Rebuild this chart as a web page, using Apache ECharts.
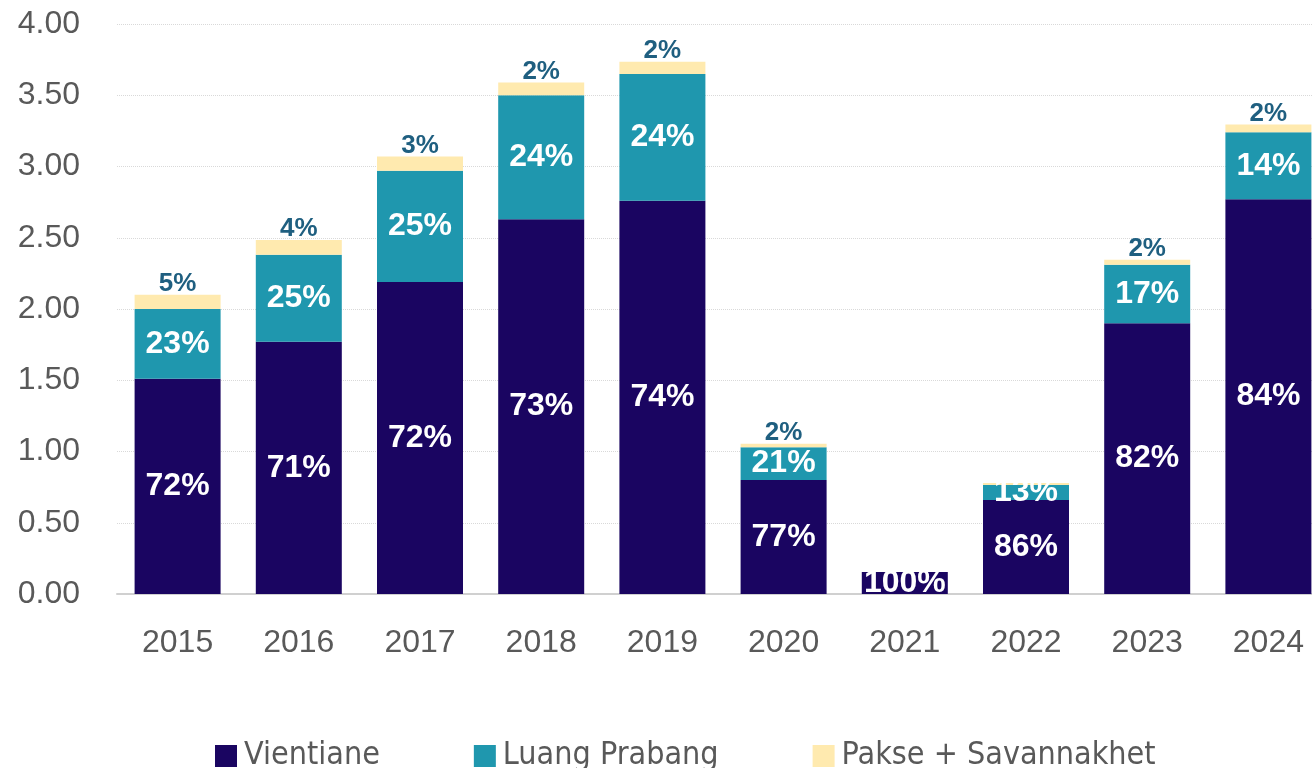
<!DOCTYPE html>
<html>
<head>
<meta charset="utf-8">
<script src="https://cdn.jsdelivr.net/npm/echarts@6/dist/echarts.min.js"></script>
<style>
  html, body { margin: 0; padding: 0; background: #fff; }
  #chart { width: 1312px; height: 768px; }
</style>
</head>
<body>
<div id="chart"></div>
<script>
const years = ['2015', '2016', '2017', '2018', '2019', '2020', '2021', '2022', '2023', '2024']
const vientiane = [1.51, 1.77, 2.19, 2.63, 2.76, 0.80, 0.154, 0.66, 1.90, 2.77]
const luangPrabang = [0.49, 0.61, 0.78, 0.87, 0.89, 0.23, 0, 0.105, 0.41, 0.47]
const pakseSavannakhet = [0.10, 0.105, 0.10, 0.09, 0.085, 0.025, 0, 0.014, 0.035, 0.055]
const vientianeLabels = ['72%', '71%', '72%', '73%', '74%', '77%', '100%', '86%', '82%', '84%']
const luangLabels = ['23%', '25%', '25%', '24%', '24%', '21%', '', '13%', '17%', '14%']
const pakseLabels = ['5%', '4%', '3%', '2%', '2%', '2%', '', '', '2%', '2%']
const yTicks = ['0.00', '0.50', '1.00', '1.50', '2.00', '2.50', '3.00', '3.50', '4.00']

const chart = echarts.init(document.getElementById('chart'))
const baseFont = '"Liberation Sans", Arial, sans-serif'

const insideLabel = (labels) => ({
  show: true,
  position: 'inside',
  color: '#fff',
  fontWeight: 'bold',
  fontSize: 32,
  fontFamily: baseFont,
  formatter: (p) => labels[p.dataIndex]
})

const option = {
  animation: false,
  // plot area runs past the right edge of the picture
  grid: { left: 117, right: -17, top: 24, bottom: 174, outerBoundsMode: 'none', containLabel: false },
  legend: {
    left: 210,
    top: 735,
    itemWidth: 22,
    itemHeight: 22,
    itemGap: 94,
    icon: 'rect',
    textStyle: {
      color: '#595959',
      fontSize: 32,
      fontFamily: '"Liberation Sans Narrow", "DejaVu Sans Condensed", sans-serif',
      padding: [0, 0, 0, 2]
    },
    data: ['Vientiane', 'Luang Prabang', 'Pakse + Savannakhet']
  },
  xAxis: {
    type: 'category',
    data: years,
    axisLine: { lineStyle: { color: '#d0d0d0', width: 2 } },
    axisTick: { show: false },
    axisLabel: { color: '#595959', fontSize: 32, margin: 33, fontFamily: baseFont }
  },
  yAxis: {
    type: 'value',
    min: 0,
    max: 4,
    interval: 0.5,
    axisLine: { show: false },
    axisTick: { show: false },
    splitLine: { lineStyle: { color: '#d9d9d9', type: 'dotted', width: 1 } },
    axisLabel: {
      color: '#595959',
      fontSize: 32,
      margin: 37,
      fontFamily: baseFont,
      formatter: (v) => yTicks[Math.round(v / 0.5)]
    }
  },
  series: [
    {
      name: 'Vientiane',
      type: 'bar',
      stack: 'total',
      barWidth: 86,
      itemStyle: { color: '#1a0561' },
      label: insideLabel(vientianeLabels),
      data: vientiane
    },
    {
      name: 'Luang Prabang',
      type: 'bar',
      stack: 'total',
      itemStyle: { color: '#1f97ae' },
      label: insideLabel(luangLabels),
      data: luangPrabang
    },
    {
      name: 'Pakse + Savannakhet',
      type: 'bar',
      stack: 'total',
      itemStyle: { color: '#ffeaaf' },
      label: {
        show: true,
        position: 'top',
        distance: -2,
        color: '#1f5f80',
        fontWeight: 'bold',
        fontSize: 26,
        fontFamily: baseFont,
        formatter: (p) => pakseLabels[p.dataIndex]
      },
      data: pakseSavannakhet
    }
  ]
}

chart.setOption(option)
</script>
</body>
</html>
